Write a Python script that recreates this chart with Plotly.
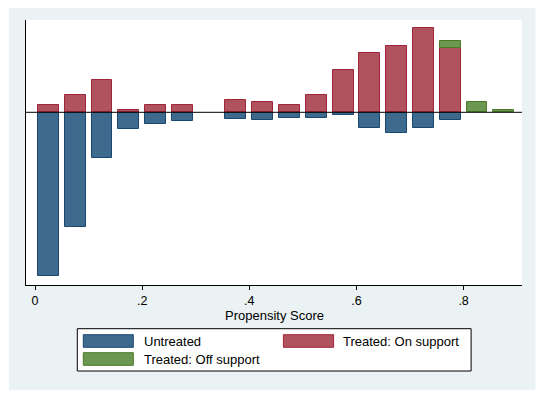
import plotly.graph_objects as go

# ---- data ----
bin_centers = [0.025, 0.075, 0.125, 0.175, 0.225, 0.275, 0.325, 0.375,
               0.425, 0.475, 0.525, 0.575, 0.625, 0.675, 0.725, 0.775]
untreated = [164, 115, 46, 17, 12, 9, 0, 7, 8, 5.3, 5.3, 3, 15.3, 21, 16, 8]
treated_on = [7, 17, 32, 2, 7, 7, 0, 12, 10, 7, 17, 42, 59, 66, 84, 64]
off_centers = [0.775, 0.825, 0.875]
treated_off = [7, 10, 2]

tick_vals = [0, 0.2, 0.4, 0.6, 0.8]
tick_text = ["0", ".2", ".4", ".6", ".8"]
x_title = "Propensity Score"
legend_labels = ["Untreated", "Treated: On support", "Treated: Off support"]

# ---- styles ----
BLUE_F, BLUE_L = "#3E6A8E", "#1A476F"
RED_F, RED_L = "#B0535E", "#A12539"
GRN_F, GRN_L = "#6B9751", "#4A7A28"
BG = "#EAF2F3"
FONT = "Liberation Sans, Arial, sans-serif"

# page body has an 8px margin: figure is drawn at (8, 8)
OFF = 8
W, H = 546 - OFF, 396 - OFF
ML, MR, MT, MB = 26 - OFF, 24, 20 - OFF, 111
PW, PH = W - ML - MR, H - MT - MB

def px_x(p):  # p in window pixels
    return (p - OFF - ML) / PW

def px_y(p):
    return (H - MB - (p - OFF)) / PH

fig = go.Figure()

ux = [c for c, v in zip(bin_centers, untreated) if v]
uy = [-v for v in untreated if v]
fig.add_trace(go.Bar(x=ux, y=uy, width=0.039, name=legend_labels[0],
                     marker=dict(color=BLUE_F, line=dict(color=BLUE_L, width=1)),
                     showlegend=False))
tx = [c for c, v in zip(bin_centers, treated_on) if v]
ty = [v for v in treated_on if v]
fig.add_trace(go.Bar(x=tx, y=ty, width=0.039, name=legend_labels[1],
                     marker=dict(color=RED_F, line=dict(color=RED_L, width=1)),
                     showlegend=False))
fig.add_trace(go.Bar(x=off_centers, y=treated_off, width=0.039, name=legend_labels[2],
                     marker=dict(color=GRN_F, line=dict(color=GRN_L, width=1)),
                     showlegend=False))

shapes = []
# zero line above bars
shapes.append(dict(type="line", xref="paper", yref="y", x0=0, x1=1, y0=0, y1=0,
                   line=dict(color="black", width=1), layer="above"))
# white outer strips (graph region inset)
for x0, x1, y0, y1 in [(0, 9, 0, 396), (535.5, 546, 0, 396), (0, 546, 390, 396)]:
    shapes.append(dict(type="rect", xref="paper", yref="paper",
                       x0=px_x(x0), x1=px_x(x1), y0=px_y(y1), y1=px_y(y0),
                       fillcolor="white", line=dict(width=0), layer="below"))
# legend box
shapes.append(dict(type="rect", xref="paper", yref="paper",
                   x0=px_x(77.3), x1=px_x(471.1), y0=px_y(371), y1=px_y(328.7),
                   fillcolor="white", line=dict(color="black", width=1), layer="above"))
sw = [(83.3, 133.3, 334.7, 347.3, BLUE_F, BLUE_L),
      (283.4, 333.6, 334.7, 347.3, RED_F, RED_L),
      (83.3, 133.3, 352.7, 365.3, GRN_F, GRN_L)]
for x0, x1, y0, y1, f, l in sw:
    shapes.append(dict(type="rect", xref="paper", yref="paper",
                       x0=px_x(x0), x1=px_x(x1), y0=px_y(y1), y1=px_y(y0),
                       fillcolor=f, line=dict(color=l, width=1), layer="above"))

annotations = []
for (tx_, ty_), lab in zip([(141.7, 341.5), (340.5, 341.5), (141.7, 359.5)], legend_labels):
    annotations.append(dict(x=px_x(tx_), y=px_y(ty_), xref="paper", yref="paper",
                            text=lab, showarrow=False, xanchor="left", yanchor="middle",
                            font=dict(family=FONT, size=13, color="black")))
annotations.append(dict(x=0.5, y=px_y(315), xref="paper", yref="paper",
                        text=x_title, showarrow=False, xanchor="center", yanchor="middle",
                        font=dict(family=FONT, size=13, color="black")))

fig.update_layout(
    width=W, height=H,
    margin=dict(l=ML, r=MR, t=MT, b=MB),
    paper_bgcolor=BG, plot_bgcolor="white",
    barmode="relative", bargap=0,
    font=dict(family=FONT, size=13, color="black"),
    shapes=shapes, annotations=annotations,
    showlegend=False,
)
fig.update_xaxes(range=[-0.0168, 0.909], tickvals=tick_vals, ticktext=tick_text,
                 ticks="outside", ticklen=4, tickcolor="black", tickwidth=1,
                 showline=True, linecolor="black", linewidth=1, showgrid=False,
                 zeroline=False, tickfont=dict(size=12.5, color="black"))
fig.update_yaxes(range=[-172.7, 92.3], showticklabels=False, ticks="",
                 showline=True, linecolor="black", linewidth=1, showgrid=False,
                 zeroline=False)

fig.write_html("out.html")
